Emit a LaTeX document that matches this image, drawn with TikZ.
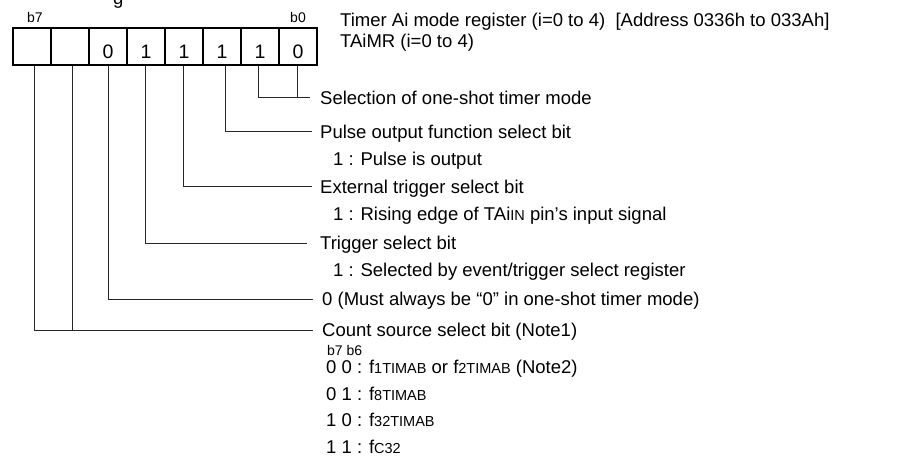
\documentclass[tikz,border=0pt]{standalone}
\usepackage{fontspec}
\setmainfont{Liberation Sans}
\begin{document}
\begin{tikzpicture}[x=1pt,y=-1pt,
  cell/.style={draw, line width=2pt, minimum width=38pt, minimum height=37pt, inner sep=0pt, anchor=north west},
  conn/.style={draw=black!85, line width=0.9pt},
  txt/.style={anchor=base west, inner sep=0pt, font=\fontsize{18.5}{21}\selectfont},
  bitlbl/.style={anchor=base, inner sep=0pt, font=\fontsize{14}{16}\selectfont},
  digit/.style={anchor=base, inner sep=0pt, font=\fontsize{19.5}{22}\selectfont}]
\newcommand{\sss}[1]{{\fontsize{14.5}{17}\selectfont #1}}
\useasboundingbox (0,0) rectangle (913,458);
% fragment of cut-off title
\node[txt] (frag) at (113,4) {g};
% register cells
\foreach \i/\b in {0/7,1/6,2/5,3/4,4/3,5/2,6/1,7/0} {
  \node[cell] (c\b) at ({12+38*\i},27) {};
}
\node[bitlbl] (lb7) at (35,22) {b7};
\node[bitlbl] (lb0) at (298,22) {b0};
\node[digit] (d5) at (c5.center |- 0,58) {0};
\node[digit] (d4) at (c4.center |- 0,58) {1};
\node[digit] (d3) at (c3.center |- 0,58) {1};
\node[digit] (d2) at (c2.center |- 0,58) {1};
\node[digit] (d1) at (c1.center |- 0,58) {1};
\node[digit] (d0) at (c0.center |- 0,58) {0};
% title texts
\node[txt] (title) at (340,26) {Timer Ai mode register (i=0 to 4)\ \ [Address 0336h to 033Ah]};
\node[txt] (title2) at (340,47) {TAiMR (i=0 to 4)};
% descriptions
\node[txt] (t0) at (320,104) {Selection of one-shot timer mode};
\node[txt] (t2) at (320,138) {Pulse output function select bit};
\node[txt] (t2a) at (333,165) {1 : Pulse is output};
\node[txt] (t3) at (320,193) {External trigger select bit};
\node[txt] (t3a) at (333,220) {1 : Rising edge of TAi\sss{IN} pin's input signal};
\node[txt] (t4) at (320,249.5) {Trigger select bit};
\node[txt] (t4a) at (333,276.5) {1 : Selected by event/trigger select register};
\node[txt] (t5) at (322,305.5) {0 (Must always be “0” in one-shot timer mode)};
\node[txt] (t6) at (322,336.5) {Count source select bit (Note1)};
\node[txt,font=\fontsize{14}{16}\selectfont] (t6h) at (327,355) {b7 b6};
\node[txt] (t6a) at (326,373.5) {0 0 : f\sss{1TIMAB} or f\sss{2TIMAB} (Note2)};
\node[txt] (t6b) at (326,400) {0 1 : f\sss{8TIMAB}};
\node[txt] (t6c) at (326,426.5) {1 0 : f\sss{32TIMAB}};
\node[txt] (t6d) at (326,453.5) {1 1 : f\sss{C32}};
% connector end points
\coordinate (e0) at (310,97);
\coordinate (e2) at (312,131);
\coordinate (e3) at (312,186);
\coordinate (e4) at (307,243);
\coordinate (e5) at (313,299);
\coordinate (e6) at (313,330);
% connectors
\draw[conn] ([xshift=-2pt]c1.south) |- (e0);
\draw[conn] ([xshift=-1pt]c0.south) -- ([xshift=-1pt]c0.south |- e0);
\draw[conn] ([xshift=3pt]c2.south) |- (e2);
\draw[conn] ([xshift=-1pt]c3.south) |- (e3);
\draw[conn] ([xshift=-1pt]c4.south) |- (e4);
\draw[conn] (c5.south) |- (e5);
\draw[conn] ([xshift=2pt]c7.south) |- (e6);
\draw[conn] ([xshift=2pt]c6.south) -- ([xshift=2pt]c6.south |- e6);
\end{tikzpicture}
\end{document}
